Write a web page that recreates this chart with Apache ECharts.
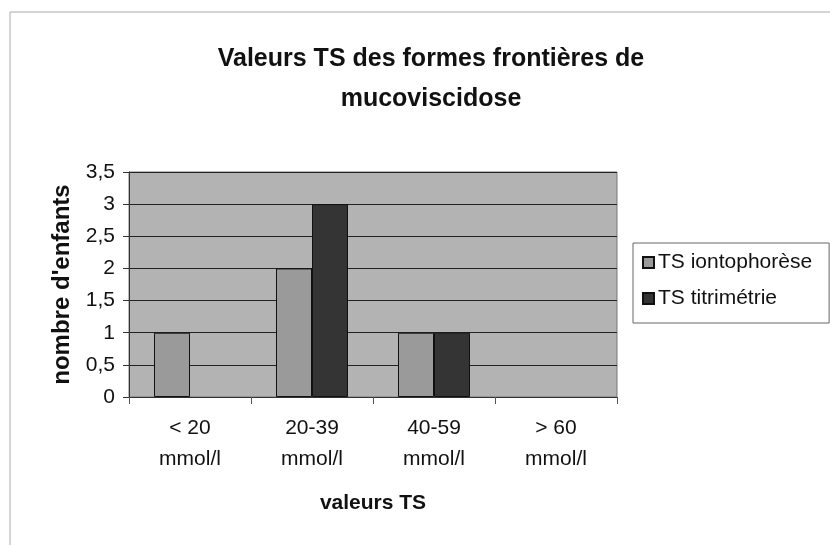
<!DOCTYPE html>
<html><head><meta charset="utf-8">
<script src="https://cdn.jsdelivr.net/npm/echarts@6/dist/echarts.min.js"></script>
<style>html,body{margin:0;padding:0;background:#fff}#c{width:830px;height:545px}</style>
</head><body><div id="c"></div>
<script>
const categories = ['< 20\nmmol/l', '20-39\nmmol/l', '40-59\nmmol/l', '> 60\nmmol/l'];
const seriesNames = ['TS iontophorèse', 'TS titrimétrie'];
const iontophorese = [1, 2, 1, 0];
const titrimetrie = [0, 3, 1, 0];
const yTicks = {min: 0, max: 3.5, interval: 0.5};

const chart = echarts.init(document.getElementById('c'), null, {renderer: 'canvas'});
const font = '"Liberation Sans", Arial, sans-serif';
const toData = arr => arr.map(v => v === 0 ? {value: v, itemStyle: {borderWidth: 0, opacity: 0}} : v);
chart.setOption({
  animation: false,
  backgroundColor: '#fff',
  graphic: [{
    type: 'rect', shape: {x: 10, y: 12, width: 830, height: 540},
    style: {fill: 'none', stroke: '#aaa', lineWidth: 1}, silent: true, z: -1
  }],
  title: {
    text: 'Valeurs TS des formes frontières de\nmucoviscidose',
    left: 426, top: 34, textAlign: 'center',
    textStyle: {fontFamily: font, fontSize: 25, fontWeight: 'bold', color: '#111', lineHeight: 40}
  },
  legend: {
    orient: 'vertical', left: 633, top: 243,
    padding: [9, 17, 14, 9], itemGap: 15,
    borderColor: '#666', borderWidth: 1, backgroundColor: '#fff',
    itemWidth: 11, itemHeight: 11,
    textStyle: {fontFamily: font, fontSize: 21, color: '#111', padding: [0, 0, 0, -1]},
    data: seriesNames.map(n => ({name: n, icon: 'rect'}))
  },
  grid: {
    left: 129, right: 213, top: 172, bottom: 148,
    show: true, backgroundColor: '#b3b3b3', borderColor: '#777', borderWidth: 1
  },
  xAxis: {
    type: 'category', data: categories,
    name: 'valeurs TS', nameLocation: 'middle', nameGap: 96,
    nameTextStyle: {fontFamily: font, fontSize: 21, fontWeight: 'bold', color: '#111'},
    axisLine: {show: true, lineStyle: {color: '#333', width: 1}},
    axisTick: {show: true, length: 7, lineStyle: {color: '#555'}},
    axisLabel: {fontFamily: font, fontSize: 21, color: '#111', margin: 16, lineHeight: 31}
  },
  yAxis: {
    type: 'value', min: yTicks.min, max: yTicks.max, interval: yTicks.interval,
    name: "nombre d'enfants", nameLocation: 'middle', nameGap: 55,
    nameTextStyle: {fontFamily: font, fontSize: 24, fontWeight: 'bold', color: '#111'},
    axisLine: {show: true, lineStyle: {color: '#333'}},
    axisTick: {show: true, length: 6, lineStyle: {color: '#333'}},
    axisLabel: {fontFamily: font, fontSize: 21, color: '#111', margin: 14,
      formatter: v => String(v).replace('.', ',')},
    splitLine: {show: true, lineStyle: {color: '#222', width: 1}}
  },
  series: [
    {name: seriesNames[0], type: 'bar', data: toData(iontophorese), barGap: '0%', barCategoryGap: '41%',
     itemStyle: {color: '#9a9a9a', borderColor: '#111', borderWidth: 1}},
    {name: seriesNames[1], type: 'bar', data: toData(titrimetrie), barGap: '0%', barCategoryGap: '41%',
     itemStyle: {color: '#343434', borderColor: '#111', borderWidth: 1}}
  ]
});
</script></body></html>
